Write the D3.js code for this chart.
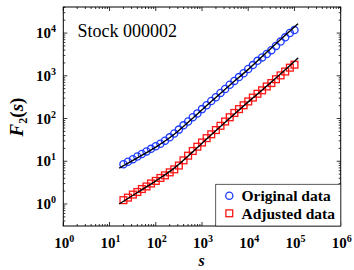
<!DOCTYPE html>
<html><head><meta charset="utf-8">
<script src="https://cdn.jsdelivr.net/npm/d3@7"></script>
<style>body{margin:0;background:#fff}svg{display:block}</style>
</head><body>
<svg id="c" width="354" height="270"></svg>
<script>
const scales = [20,25,32,40,50,63,79,100,126,158,200,251,316,398,501,631,794,1000,1259,1585,1995,2512,3162,3981,5012,6310,7943,10000,12589,15849,19953,25119,31623,39811,50119,63096,79433,100000];
const original = [8.51,9.77,11.2,12.9,14.8,17.0,19.5,22.4,25.7,30.2,36.3,44.7,55.0,69.2,85.1,107,132,166,204,257,316,398,490,617,759,933,1148,1445,1778,2239,2692,3236,3981,5012,6310,7943,10000,11749];
const adjusted = [1.23,1.41,1.66,1.91,2.24,2.57,3.02,3.47,4.07,4.68,5.50,6.46,7.94,10.5,13.5,17.4,21.9,27.5,34.7,42.7,53.7,67.6,85.1,107,135,166,204,251,309,380,457,562,676,832,1023,1259,1549,1820];
const fitS = [16.2,40,100,251,631,1585,3981,10000,25119,63096,120000];
const fitOriginal = [6.92,12.0,21.4,42.7,102,251,603,1413,3548,8913,16596];
const fitAdjusted = [1.00,1.86,3.47,6.92,16.6,41.7,102,245,575,1380,2630];
const xTickExp = [0,1,2,3,4,5,6];
const yTickExp = [0,1,2,3,4];
const title = "Stock 000002";
const legendLabels = ["Original data","Adjusted data"];

const svg = d3.select("#c");
const L=63.3, R=340.7, T=7, B=226;
const x = d3.scaleLog().domain([1,1e6]).range([L,R]);
const y = d3.scaleLog().domain([Math.pow(10,-0.515), Math.pow(10,4.61)]).range([B,T]);
const serif = "'Liberation Serif','Times New Roman',serif";
const BLUE = "#1f3cff", RED = "#ff1414";

// frame
svg.append("rect").attr("x",L).attr("y",T).attr("width",R-L).attr("height",B-T)
  .attr("fill","none").attr("stroke","#000").attr("stroke-width",1);

// ticks
const isMajor = v => Math.abs(Math.log10(v)-Math.round(Math.log10(v)))<1e-9;
const tg = svg.append("g").attr("stroke","#000").attr("stroke-width",0.8);
x.ticks().forEach(v=>{
  const len = isMajor(v)?4:2, px=x(v);
  tg.append("line").attr("x1",px).attr("x2",px).attr("y1",B).attr("y2",B-len);
  tg.append("line").attr("x1",px).attr("x2",px).attr("y1",T).attr("y2",T+len);
});
y.ticks().forEach(v=>{
  const len = isMajor(v)?4:2, py=y(v);
  tg.append("line").attr("x1",L).attr("x2",L+len).attr("y1",py).attr("y2",py);
  tg.append("line").attr("x1",R).attr("x2",R-len).attr("y1",py).attr("y2",py);
});

// tick labels
xTickExp.forEach(e=>{
  const t = svg.append("text").attr("x",x(Math.pow(10,e))+1).attr("y",248)
    .attr("text-anchor","middle").attr("font-family",serif).attr("font-weight","bold").attr("font-size",15);
  t.append("tspan").text("10");
  t.append("tspan").attr("dy",-6).attr("font-size",10).text(e);
});
yTickExp.forEach(e=>{
  const t = svg.append("text").attr("x",56).attr("y",y(Math.pow(10,e))+5)
    .attr("text-anchor","end").attr("font-family",serif).attr("font-weight","bold").attr("font-size",15);
  t.append("tspan").text("10");
  t.append("tspan").attr("dy",-6).attr("font-size",10).text(e);
});

// axis labels
svg.append("text").attr("x",201.5).attr("y",265.5).attr("text-anchor","middle")
  .attr("font-family",serif).attr("font-weight","bold").attr("font-style","italic").attr("font-size",16).text("s");
const yl = svg.append("text").attr("transform","translate(23,117) rotate(-90)").attr("text-anchor","middle")
  .attr("font-family",serif).attr("font-weight","bold").attr("font-size",19);
yl.append("tspan").attr("font-style","italic").text("F");
yl.append("tspan").attr("font-size",12).attr("dy",4).text("2");
yl.append("tspan").attr("dy",-4).text("(");
yl.append("tspan").attr("font-style","italic").text("s");
yl.append("tspan").text(")");

// title
svg.append("text").attr("x",77.5).attr("y",37).attr("font-family",serif).attr("font-size",18).text(title);

// markers
const g = svg.append("g");
scales.forEach((s,i)=>{
  g.append("circle").attr("cx",x(s)).attr("cy",y(original[i])).attr("r",3.6)
    .attr("fill","none").attr("stroke",BLUE).attr("stroke-width",1.3);
});
scales.forEach((s,i)=>{
  g.append("rect").attr("x",x(s)-3.4).attr("y",y(adjusted[i])-3.4).attr("width",6.8).attr("height",6.8)
    .attr("fill","none").attr("stroke",RED).attr("stroke-width",1.3);
});

// fit lines
const line = d3.line().x(d=>x(d[0])).y(d=>y(d[1])).curve(d3.curveMonotoneX);
[fitOriginal, fitAdjusted].forEach(arr=>{
  svg.append("path").attr("d",line(fitS.map((s,i)=>[s,arr[i]])))
    .attr("fill","none").attr("stroke","#000").attr("stroke-width",1.4);
});

// legend
svg.append("rect").attr("x",215.7).attr("y",184.3).attr("width",R-215.7).attr("height",B-184.3)
  .attr("fill","#fff").attr("stroke","#333").attr("stroke-width",0.8);
svg.append("circle").attr("cx",229.3).attr("cy",195.7).attr("r",3.6).attr("fill","none").attr("stroke",BLUE).attr("stroke-width",1.3);
svg.append("rect").attr("x",229.3-3.4).attr("y",213.3-3.4).attr("width",6.8).attr("height",6.8).attr("fill","none").attr("stroke",RED).attr("stroke-width",1.3);
[201,218.5].forEach((yy,i)=>{
  svg.append("text").attr("x",241.5).attr("y",yy).attr("font-family",serif).attr("font-weight","bold").attr("font-size",15.5).text(legendLabels[i]);
});
</script>
</body></html>
